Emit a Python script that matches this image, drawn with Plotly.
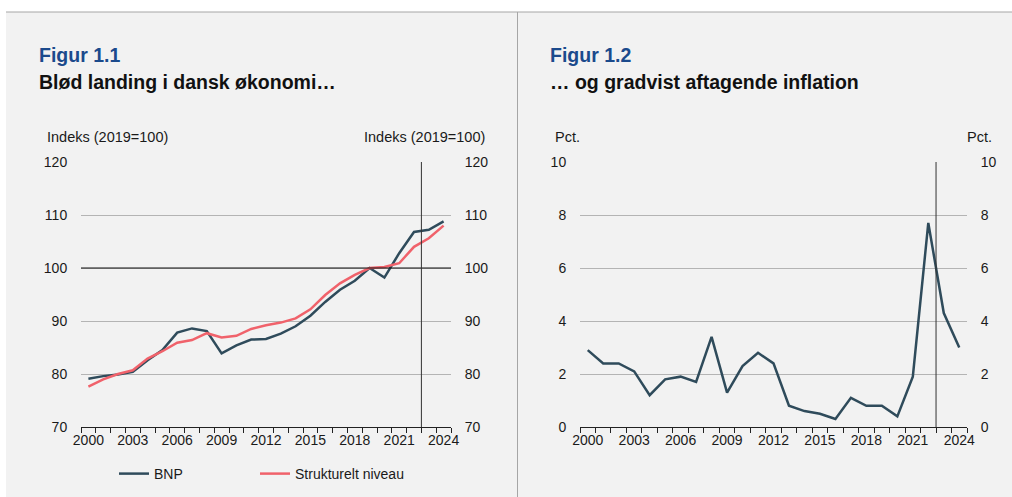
import plotly.graph_objects as go

W, H = 1012, 497

# data
aar = list(range(2000, 2025))
bnp = [79.1, 79.6, 79.9, 80.4, 82.6, 84.5, 87.8, 88.6, 88.1, 83.9,
       85.4, 86.5, 86.6, 87.6, 89.0, 91.0, 93.6, 95.9, 97.6, 100.0,
       98.2, 102.8, 106.8, 107.2, 108.8]
strukturelt = [77.6, 79.0, 80.0, 80.7, 82.9, 84.3, 85.9, 86.4, 87.7, 86.9,
               87.2, 88.5, 89.2, 89.7, 90.5, 92.2, 94.9, 97.1, 98.7, 100.0,
               100.2, 100.9, 104.0, 105.6, 108.0]
inflation = [2.9, 2.4, 2.4, 2.1, 1.2, 1.8, 1.9, 1.7, 3.4, 1.3,
             2.3, 2.8, 2.4, 0.8, 0.6, 0.5, 0.3, 1.1, 0.8, 0.8,
             0.4, 1.9, 7.7, 4.3, 3.0]
x_labels = [2000, 2003, 2006, 2009, 2012, 2015, 2018, 2021, 2024]
prognose_start = 2022.5

BNP_FARVE = "#2f4b5b"
RED = "#f0626b"
BG = "#f2f2f2"
GRID = "#b4b4b4"
FONT = "Liberation Sans, Arial, sans-serif"


def px(x):
    return x / W


def py(y):
    return 1 - y / H


fig = go.Figure()

fig.add_trace(go.Scatter(x=aar, y=bnp, name="BNP", mode="lines", legend="legend",
                         line=dict(color=BNP_FARVE, width=2.5), xaxis="x", yaxis="y"))
fig.add_trace(go.Scatter(x=aar, y=strukturelt, name="Strukturelt niveau", mode="lines",
                         legend="legend2",
                         line=dict(color=RED, width=2.5), xaxis="x", yaxis="y"))
fig.add_trace(go.Scatter(x=aar, y=inflation, name="Inflation", mode="lines", showlegend=False,
                         line=dict(color=BNP_FARVE, width=2.5), xaxis="x2", yaxis="y3"))
# usynlige spor saa hoejre akser tegnes
fig.add_trace(go.Scatter(x=aar, y=bnp, mode="lines", showlegend=False, hoverinfo="skip",
                         line=dict(color="rgba(0,0,0,0)"), xaxis="x", yaxis="y2"))
fig.add_trace(go.Scatter(x=aar, y=inflation, mode="lines", showlegend=False, hoverinfo="skip",
                         line=dict(color="rgba(0,0,0,0)"), xaxis="x2", yaxis="y4"))

tickfont = dict(family=FONT, size=14, color="#1a1a1a")

xakse = dict(range=[1999.5, 2024.5], tickvals=x_labels, ticks="", showgrid=False,
             showline=True, linecolor="#222", linewidth=1, zeroline=False,
             tickfont=tickfont, fixedrange=True, automargin=False,
             minor=dict(ticks="outside", tick0=1999.5, dtick=1, ticklen=5,
                        tickcolor="#222", showgrid=False))

ydom = [py(427), py(162)]


def yakse(rng, dtick, side, anchor, overlay=None, grid=True):
    d = dict(range=rng, dtick=dtick, side=side, anchor=anchor, domain=ydom,
             showgrid=grid, gridcolor=GRID, gridwidth=1, zeroline=False,
             showline=False, ticks="outside", ticklen=10, automargin=False,
             tickcolor="rgba(0,0,0,0)", tickfont=tickfont, fixedrange=True)
    if overlay:
        d["overlaying"] = overlay
    return d


legfont = dict(family=FONT, size=14, color="#1a1a1a")

fig.update_layout(
    template="none",
    width=W, height=H,
    margin=dict(l=0, r=0, t=0, b=0, pad=0, autoexpand=False),
    paper_bgcolor=BG, plot_bgcolor="rgba(0,0,0,0)",
    font=dict(family=FONT, size=14, color="#1a1a1a"),
    xaxis=dict(xakse, domain=[px(81), px(451)], anchor="y"),
    xaxis2=dict(xakse, domain=[px(580), px(967)], anchor="y3"),
    yaxis=yakse([70, 120], 10, "left", "x"),
    yaxis2=yakse([70, 120], 10, "right", "x", overlay="y", grid=False),
    yaxis3=yakse([0, 10], 2, "left", "x2"),
    yaxis4=yakse([0, 10], 2, "right", "x2", overlay="y3", grid=False),
    legend=dict(orientation="h", x=px(114), y=py(474), xanchor="left", yanchor="middle",
                bgcolor="rgba(0,0,0,0)", font=legfont),
    legend2=dict(orientation="h", x=px(255), y=py(474), xanchor="left", yanchor="middle",
                 bgcolor="rgba(0,0,0,0)", font=legfont),
    showlegend=True,
)

# baggrund: hvid kant foroven og til venstre, skillelinjer
fig.add_shape(type="rect", xref="paper", yref="paper", x0=0, x1=1, y0=py(12), y1=1,
              fillcolor="white", line_width=0, layer="below")
fig.add_shape(type="rect", xref="paper", yref="paper", x0=0, x1=px(6), y0=0, y1=1,
              fillcolor="white", line_width=0, layer="below")
fig.add_shape(type="line", xref="paper", yref="paper", x0=px(6), x1=1, y0=py(12), y1=py(12),
              line=dict(color="#a6a6a6", width=1))
fig.add_shape(type="line", xref="paper", yref="paper", x0=px(517.5), x1=px(517.5), y0=0, y1=py(12),
              line=dict(color="#a6a6a6", width=1))

# 100-linje og prognoselinjer
fig.add_shape(type="line", xref="x domain", yref="y", x0=0, x1=1, y0=100, y1=100,
              line=dict(color="#111", width=1))
fig.add_shape(type="line", xref="x", yref="y domain", x0=prognose_start, x1=prognose_start,
              y0=0, y1=1, line=dict(color="#333", width=1))
fig.add_shape(type="line", xref="x2", yref="y3 domain", x0=prognose_start, x1=prognose_start,
              y0=0, y1=1, line=dict(color="#333", width=1))

# tekster
titelfont = dict(size=19.5, color="#111", family=FONT)
figurfont = dict(size=19.5, color="#1b4a8c", family=FONT)
aksefont = dict(family=FONT, size=14.5, color="#1a1a1a")
tekster = [
    ("Figur 1.1", 37, 55, "left", figurfont, True),
    ("Blød landing i dansk økonomi…", 37, 82, "left", titelfont, True),
    ("Figur 1.2", 548, 55, "left", figurfont, True),
    ("… og gradvist aftagende inflation", 548, 82, "left", titelfont, True),
    ("Indeks (2019=100)", 45, 137, "left", aksefont, False),
    ("Indeks (2019=100)", 487, 137, "right", aksefont, False),
    ("Pct.", 553, 137, "left", aksefont, False),
    ("Pct.", 994, 137, "right", aksefont, False),
]
for txt, x, y, anc, f, fed in tekster:
    fig.add_annotation(text=f"<b>{txt}</b>" if fed else txt, x=px(x), y=py(y),
                       xref="paper", yref="paper", xanchor=anc, yanchor="middle",
                       showarrow=False, font=f)

fig.write_html("out.html", config={"displayModeBar": False},
               post_script="document.body.style.margin='0';"
                           "document.documentElement.style.overflow='hidden';")
